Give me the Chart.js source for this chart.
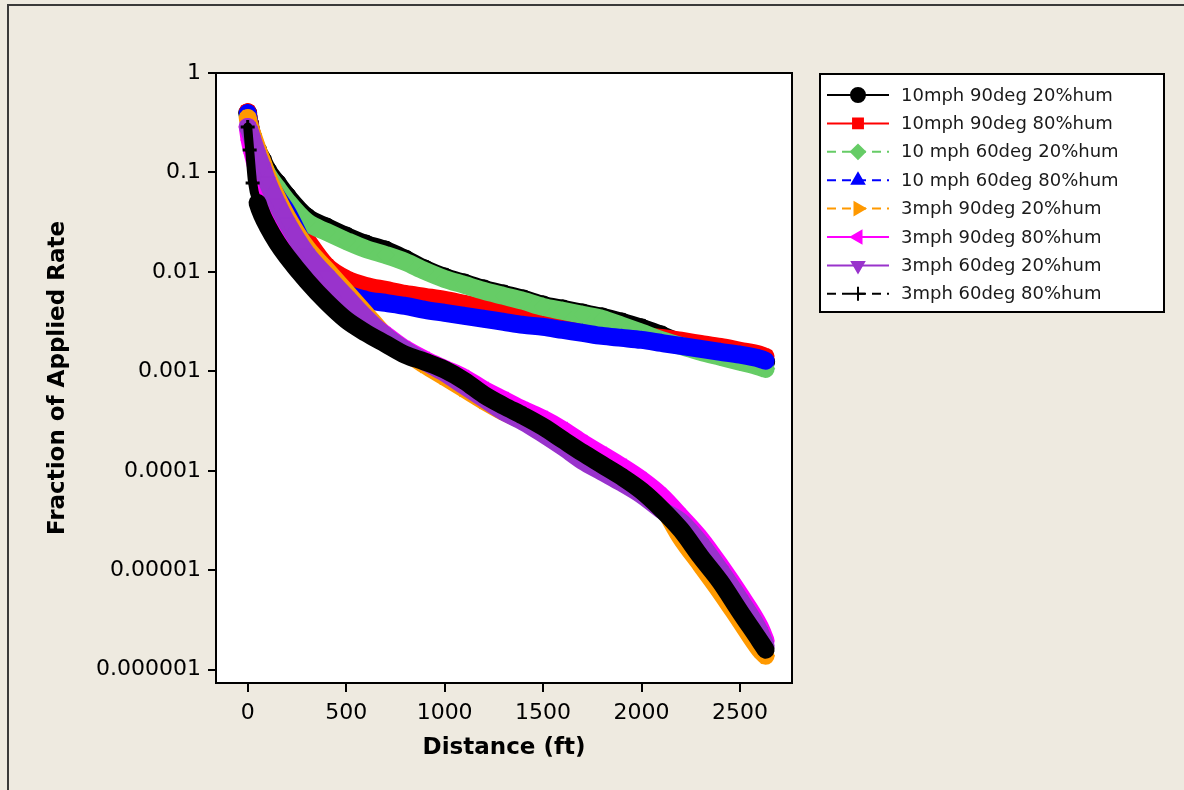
<!DOCTYPE html>
<html>
<head>
<meta charset="utf-8">
<script src="https://cdn.jsdelivr.net/npm/chart.js@4.4.0/dist/chart.umd.min.js"></script>
<style>
  html, body { margin: 0; padding: 0; background: #eeeae0; overflow: hidden; }
  #frame { position: absolute; left: 7px; top: 4px; width: 1200px; height: 820px; border: 2px solid #3a3a3a; box-sizing: border-box; }
  #wrap { position: absolute; left: 0; top: 0; width: 1184px; height: 790px; }
</style>
</head>
<body>
<div id="frame"></div>
<div id="wrap"><canvas id="chart" width="1184" height="790"></canvas></div>
<script>
// distance downwind (ft), shared by every run
const distance = [0, 10, 25, 50, 75, 100, 150, 200, 300, 400, 500, 600, 700, 800, 900, 1000,
  1100, 1200, 1300, 1400, 1500, 1600, 1700, 1800, 1900, 2000, 2100, 2200, 2300, 2400, 2500, 2600, 2630];

const seriesNames = [
  '10mph 90deg 20%hum', '10mph 90deg 80%hum', '10 mph 60deg 20%hum', '10 mph 60deg 80%hum',
  '3mph 90deg 20%hum', '3mph 90deg 80%hum', '3mph 60deg 20%hum', '3mph 60deg 80%hum'
];

// fraction of applied rate
const mph10deg90hum20 = [0.396, 0.307, 0.227, 0.168, 0.134, 0.106, 0.0784, 0.0581,
  0.0357, 0.0283, 0.0230, 0.0191, 0.0166, 0.0135, 0.0107, 0.00891, 0.00775, 0.00675, 0.00601, 0.00535,
  0.00466, 0.00425, 0.00387, 0.00353, 0.00314, 0.00274, 0.00233, 0.00193, 0.00176, 0.00157, 0.00140, 0.00128, 0.00125];
const mph10deg90hum80 = [0.405, 0.307, 0.222, 0.150, 0.111, 0.0880, 0.0594, 0.0420,
  0.0210, 0.0115, 0.00850, 0.00723, 0.00659, 0.00601, 0.00561, 0.00523, 0.00477, 0.00435, 0.00396, 0.00345,
  0.00307, 0.00280, 0.00261, 0.00244, 0.00233, 0.00222, 0.00217, 0.00203, 0.00189, 0.00176, 0.00161, 0.00147, 0.00140];
const mph10deg60hum20 = [0.378, 0.293, 0.217, 0.157, 0.122, 0.0966, 0.0699, 0.0517,
  0.0318, 0.0252, 0.0205, 0.0170, 0.0148, 0.0126, 0.0102, 0.00850, 0.00740, 0.00644, 0.00574, 0.00511,
  0.00445, 0.00406, 0.00370, 0.00337, 0.00287, 0.00244, 0.00207, 0.00180, 0.00157, 0.00140, 0.00125, 0.00111, 0.00106];
const mph10deg60hum80 = [0.396, 0.293, 0.212, 0.143, 0.106, 0.0841, 0.0567, 0.0401,
  0.0166, 0.00912, 0.00615, 0.00523, 0.00488, 0.00455, 0.00415, 0.00387, 0.00361, 0.00337, 0.00314, 0.00293,
  0.00280, 0.00261, 0.00244, 0.00227, 0.00217, 0.00207, 0.00193, 0.00180, 0.00168, 0.00157, 0.00147, 0.00134, 0.00128];
const mph3deg90hum20 = [0.353, 0.293, 0.238, 0.172, 0.128, 0.0922, 0.0554, 0.0357,
  0.0174, 0.0105, 0.00630, 0.00378, 0.00227, 0.00157, 0.00116, 8.80e-4, 6.67e-4, 5.05e-4, 3.92e-4, 3.18e-4,
  2.52e-4, 2.00e-4, 1.63e-4, 1.29e-4, 1.02e-4, 7.40e-5, 4.55e-5, 2.12e-5, 1.14e-5, 6.08e-6, 3.11e-6, 1.59e-6, 1.38e-6];
const mph3deg90hum80 = [0.287, 0.212, 0.157, 0.101, 0.0699, 0.0529, 0.0333, 0.0230,
  0.0120, 0.00723, 0.00477, 0.00322, 0.00233, 0.00168, 0.00131, 0.00106, 8.60e-4, 6.52e-4, 5.17e-4, 4.10e-4,
  3.33e-4, 2.58e-4, 1.91e-4, 1.45e-4, 1.10e-4, 8.12e-5, 5.61e-5, 3.45e-5, 2.07e-5, 1.11e-5, 5.67e-6, 2.71e-6, 1.96e-6];
const mph3deg60hum20 = [0.287, 0.261, 0.212, 0.150, 0.111, 0.0803, 0.0483, 0.0311,
  0.0152, 0.00912, 0.00561, 0.00345, 0.00227, 0.00164, 0.00125, 9.66e-4, 7.15e-4, 5.29e-4, 3.92e-4, 3.11e-4,
  2.35e-4, 1.74e-4, 1.26e-4, 9.77e-5, 7.58e-5, 5.74e-5, 4.06e-5, 3.07e-5, 1.85e-5, 9.89e-6, 5.05e-6, 2.41e-6, 1.74e-6];
const mph3deg60hum80 = [0.287, 0.168, 0.0784, 0.0494, 0.0365, 0.0290, 0.0196, 0.0142,
  0.00812, 0.00499, 0.00329, 0.00244, 0.00189, 0.00147, 0.00125, 0.00104, 8.03e-4, 5.81e-4, 4.50e-4, 3.57e-4,
  2.77e-4, 2.05e-4, 1.52e-4, 1.15e-4, 8.70e-5, 6.30e-5, 4.15e-5, 2.55e-5, 1.37e-5, 7.66e-6, 3.83e-6, 1.96e-6, 1.59e-6];

const xTickValues = [0, 500, 1000, 1500, 2000, 2500];
const yTickValues = [1, 0.1, 0.01, 0.001, 0.0001, 0.00001, 0.000001];
const yTickLabels = ['1', '0.1', '0.01', '0.001', '0.0001', '0.00001', '0.000001'];

const seriesValues = [mph10deg90hum20, mph10deg90hum80, mph10deg60hum20, mph10deg60hum80,
  mph3deg90hum20, mph3deg90hum80, mph3deg60hum20, mph3deg60hum80];

// look of each run (Minitab-ish symbols)
const colors = ['#000000', '#ff0000', '#66cc66', '#0000ff', '#ff9900', '#ff00ff', '#9933cc', '#000000'];
const markers = ['circle', 'rect', 'rectRot', 'triangle', 'triangle', 'triangle', 'triangle', 'cross'];
const rotations = [0, 0, 0, 0, 90, -90, 180, 0];
const dashed = [false, false, true, true, true, false, false, true];

Chart.defaults.font.family = '"DejaVu Sans", Verdana, sans-serif';
Chart.defaults.color = '#000';

const datasets = seriesValues.map((vals, i) => ({
    label: seriesNames[i],
    data: distance.map((d, j) => ({ x: d, y: vals[j] })),
    borderColor: colors[i],
    backgroundColor: colors[i],
    borderWidth: 18,
    borderJoinStyle: 'round',
    borderCapStyle: 'round',
    cubicInterpolationMode: 'monotone',
    pointStyle: markers[i],
    pointRotation: rotations[i],
    pointRadius: i === 7 ? 7 : 9,
    pointBorderWidth: i === 7 ? 3 : 1,
    // the "+" run is only a column of crosses near the source
    segment: i === 7 ? { borderWidth: ctx => (ctx.p0.parsed.x < 50 ? 9 : 18) } : undefined,
    order: seriesValues.length - i   // later runs sit on top, like the original
}));

// white plot area with a box round it
const plotFrame = {
    id: 'plotFrame',
    beforeDraw(chart) {
        const { ctx, chartArea: a } = chart;
        ctx.save();
        ctx.fillStyle = '#fff';
        ctx.fillRect(a.left, a.top, a.right - a.left, a.bottom - a.top);
        ctx.restore();
    },
    afterDraw(chart) {
        const { ctx, chartArea: a } = chart;
        ctx.save();
        ctx.strokeStyle = '#000';
        ctx.lineWidth = 2;
        ctx.strokeRect(a.left, a.top, a.right - a.left, a.bottom - a.top);
        ctx.restore();
    }
};

// boxed legend on the right, line + symbol + text
const sideLegend = {
    id: 'sideLegend',
    afterDraw(chart) {
        const ctx = chart.ctx;
        ctx.save();
        ctx.fillStyle = '#fff';
        ctx.fillRect(820, 74, 344, 238);
        ctx.strokeStyle = '#000';
        ctx.lineWidth = 2;
        ctx.strokeRect(820, 74, 344, 238);
        ctx.font = '18px "DejaVu Sans"';
        ctx.textBaseline = 'middle';
        chart.data.datasets.forEach((ds, i) => {
            const y = 95 + i * 28.4;
            ctx.strokeStyle = ds.borderColor;
            ctx.fillStyle = ds.borderColor;
            ctx.lineWidth = 2;
            ctx.setLineDash(dashed[i] ? [9, 6] : []);
            ctx.beginPath();
            ctx.moveTo(827, y);
            ctx.lineTo(889, y);
            ctx.stroke();
            ctx.setLineDash([]);
            Chart.helpers.drawPoint(ctx, {
                pointStyle: ds.pointStyle,
                rotation: ds.pointRotation,
                radius: 7,
                borderWidth: ds.pointStyle === 'cross' ? 2 : 1
            }, 858, y);
            ctx.fillStyle = '#1a1a1a';
            ctx.fillText(ds.label, 901, y + 1);
        });
        ctx.restore();
    }
};

new Chart(document.getElementById('chart'), {
    type: 'line',
    data: { datasets },
    options: {
        responsive: false,
        animation: false,
        devicePixelRatio: 1,
        layout: { padding: { left: 0, top: 73, right: 392, bottom: 0 } },
        plugins: { legend: { display: false }, tooltip: { enabled: false } },
        scales: {
            x: {
                type: 'linear',
                min: -161,
                max: 2764,
                afterBuildTicks: s => { s.ticks = xTickValues.map(v => ({ value: v })); },
                afterFit: s => { s.height = 107; },
                border: { display: false },
                grid: { drawOnChartArea: false, drawTicks: true, tickLength: 9, lineWidth: 2, color: '#000' },
                ticks: { font: { size: 22 }, color: '#000', padding: 8, maxRotation: 0, autoSkip: false,
                         callback: v => String(v) },
                title: { display: true, text: 'Distance (ft)', color: '#000',
                         font: { size: 23, weight: 'bold' }, padding: { top: 0, bottom: 28 } }
            },
            y: {
                type: 'logarithmic',
                min: 7.35e-7,
                max: 1,
                afterBuildTicks: s => { s.ticks = yTickValues.map(v => ({ value: v })); },
                afterFit: s => { s.width = 216; },
                border: { display: false },
                grid: { drawOnChartArea: false, drawTicks: true, tickLength: 8, lineWidth: 2, color: '#000' },
                ticks: { font: { size: 22 }, color: '#000', padding: 7, autoSkip: false,
                         callback: v => { const k = yTickValues.indexOf(v); return k >= 0 ? yTickLabels[k] : ''; } },
                title: { display: true, text: 'Fraction of Applied Rate', color: '#000',
                         font: { size: 23, weight: 'bold' }, padding: { top: 44, bottom: 0 } }
            }
        }
    },
    plugins: [plotFrame, sideLegend]
});
</script>
</body>
</html>
